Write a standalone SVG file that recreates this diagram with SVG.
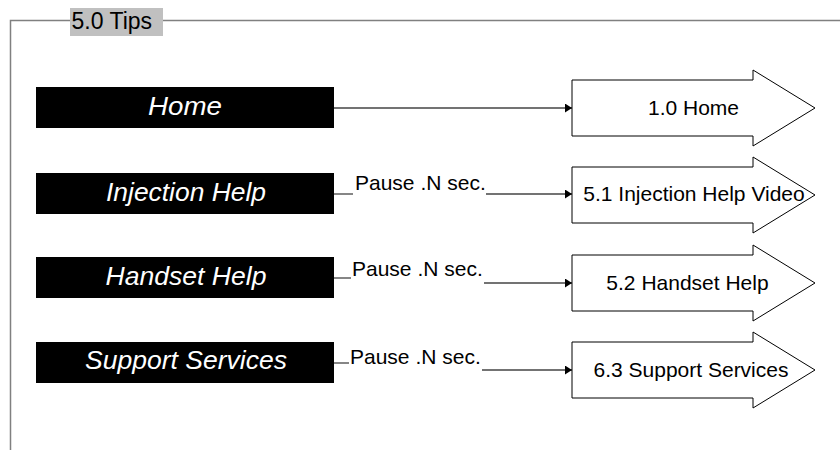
<svg xmlns="http://www.w3.org/2000/svg" width="840" height="450" viewBox="0 0 840 450">
<style>
.frame{stroke:#808080;stroke-width:1.5;fill:none}
.btn{fill:#000}
.btxt{font-family:"Liberation Sans",Arial,sans-serif;font-style:italic;font-size:25px;fill:#fff;text-anchor:middle}
.arr{fill:#fff;stroke:#000;stroke-width:1}
.atxt{font-family:"Liberation Sans",Arial,sans-serif;font-size:21px;fill:#000;text-anchor:middle}
.lbl{font-family:"Liberation Sans",Arial,sans-serif;font-size:21px;fill:#000}
.con{stroke:#444;stroke-width:1.3;fill:none}
</style>
<defs>
<marker id="ah" markerWidth="8" markerHeight="10" refX="7" refY="4.5" orient="auto" markerUnits="userSpaceOnUse">
<path d="M0,0 L7,4.5 L0,9 z" fill="#000"/>
</marker>
</defs>
<rect width="840" height="450" fill="#fff"/>
<g id="frame">
<path class="frame" d="M10.5,450 V20.5 H840"/>
<rect x="70" y="8" width="93" height="28" fill="#c0c0c0"/>
<text x="71.5" y="29" style="font-family:'Liberation Sans',Arial,sans-serif;font-size:23px;fill:#000">5.0 Tips</text>
</g>
<g id="connectors">
<line class="con" x1="334" y1="108" x2="572" y2="108" marker-end="url(#ah)"/>
<line class="con" x1="334" y1="194" x2="353" y2="194"/>
<line class="con" x1="486" y1="194" x2="572" y2="194" marker-end="url(#ah)"/>
<text class="lbl" x="355" y="190">Pause .N sec.</text>
<line class="con" x1="334" y1="278" x2="351" y2="278"/>
<line class="con" x1="484" y1="283" x2="572" y2="283" marker-end="url(#ah)"/>
<text class="lbl" x="352" y="276">Pause .N sec.</text>
<line class="con" x1="334" y1="363" x2="349" y2="363"/>
<line class="con" x1="482" y1="370" x2="572" y2="370" marker-end="url(#ah)"/>
<text class="lbl" x="350" y="364">Pause .N sec.</text>
</g>
<g id="btn-home">
<rect class="btn" x="36" y="87" width="298" height="41"/>
<text class="btxt" x="185" y="115" textLength="74" lengthAdjust="spacingAndGlyphs">Home</text>
</g>
<g id="btn-injection">
<rect class="btn" x="36" y="173" width="298" height="41"/>
<text class="btxt" x="186" y="201" textLength="160" lengthAdjust="spacingAndGlyphs">Injection Help</text>
</g>
<g id="btn-handset">
<rect class="btn" x="36" y="257" width="298" height="41"/>
<text class="btxt" x="186" y="285" textLength="161" lengthAdjust="spacingAndGlyphs">Handset Help</text>
</g>
<g id="btn-support">
<rect class="btn" x="36" y="342" width="298" height="41"/>
<text class="btxt" x="186" y="369" textLength="202" lengthAdjust="spacingAndGlyphs">Support Services</text>
</g>
<g id="arrow-home">
<polygon class="arr" points="572,80 753,80 753,70 815,108 753,146 753,136 572,136"/>
<text class="atxt" x="693.5" y="115">1.0 Home</text>
</g>
<g id="arrow-injection">
<polygon class="arr" points="572,167 753,167 753,157 815,195 753,233 753,223 572,223"/>
<text class="atxt" x="694" y="201">5.1 Injection Help Video</text>
</g>
<g id="arrow-handset">
<polygon class="arr" points="572,255 753,255 753,245 815,283 753,321 753,311 572,311"/>
<text class="atxt" x="687.5" y="290">5.2 Handset Help</text>
</g>
<g id="arrow-support">
<polygon class="arr" points="572,342 753,342 753,332 815,370 753,408 753,398 572,398"/>
<text class="atxt" x="691" y="377">6.3 Support Services</text>
</g>
</svg>
